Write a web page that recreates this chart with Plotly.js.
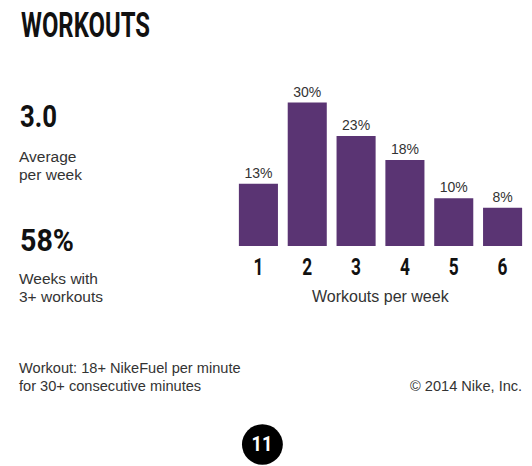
<!DOCTYPE html>
<html>
<head>
<meta charset="utf-8">
<script src="https://cdn.plot.ly/plotly-3.0.1.min.js"></script>
<style>
  html, body { margin: 0; padding: 0; background: #fff; }
  #chart { width: 532px; height: 466px; }
</style>
</head>
<body>
<div id="chart"></div>
<script>
// ---- data ----
const categories = ["1", "2", "3", "4", "5", "6"];
const shares = [13, 30, 23, 18, 10, 8];
const barLabels = ["13%", "30%", "23%", "18%", "10%", "8%"];
const titleText = "WORKOUTS";
const statValues = ["3.0", "58%"];
const statCaptions = [["Average", "per week"], ["Weeks with", "3+ workouts"]];
const xAxisLabel = "Workouts per week";
const footnoteLines = ["Workout: 18+ NikeFuel per minute", "for 30+ consecutive minutes"];
const copyrightText = "© 2014 Nike, Inc.";
const pageNumber = "11";

// ---- layout geometry (pixels) ----
const WIDTH = 532, HEIGHT = 466;
const L = 233.5, R = 527.5, T = 92.7, B = 245.7;
const PW = R - L, PH = B - T;
const px = x => (x - L) / PW;
const py = y => (B - y) / PH;

const COND = "Roboto, Liberation Sans, Arial, sans-serif";
const BODY = "Liberation Sans, Arial, Helvetica, sans-serif";
const TEXT = "#333333";

function ann(text, x, y, size, opts) {
  return Object.assign({
    text: text, xref: "paper", yref: "paper", x: px(x), y: py(y),
    xanchor: "left", yanchor: "middle", showarrow: false,
    font: {family: BODY, size: size, color: TEXT}
  }, opts || {});
}
const condFont = (size, color) => ({family: COND, size: size, color: color, weight: 700});

const annotations = [
  ann(titleText, 18, 25.5, 35, {font: condFont(35, "#111")}),                 // 0
  ann(statValues[0], 17, 116, 31, {font: condFont(31, "#111")}),              // 1
  ann(statCaptions[0][0], 16, 156, 15.5),
  ann(statCaptions[0][1], 16, 174, 15.5),
  ann(statValues[1], 17, 240, 32, {font: condFont(32, "#111")}),              // 4
  ann(statCaptions[1][0], 16, 278.5, 15.5),
  ann(statCaptions[1][1], 16, 296, 15.5),
  ann(xAxisLabel, 381, 296, 16, {xanchor: "center"}),
  ann(footnoteLines[0], 16, 367.5, 14.6),
  ann(footnoteLines[1], 16, 385.5, 14.6),
  ann(copyrightText, 524, 385.5, 14.6, {xanchor: "right"}),
  ann(pageNumber, 262, 443.5, 21, {xanchor: "center", font: condFont(21, "#fff")}) // 11
];
// horizontal condensing (target widths in px) for the bold condensed face
const condense = {0: {w: 129, anchor: "left"}, 1: {w: 37, anchor: "left"},
                  4: {w: 54, anchor: "left"}, 11: {w: 21, anchor: "center"}};

const shapes = [{
  type: "circle", xref: "paper", yref: "paper",
  x0: px(241.5), x1: px(282.5), y0: py(464.5), y1: py(424),
  fillcolor: "#000", line: {width: 0}, layer: "above"
}];

const trace = {
  type: "bar",
  x: categories,
  y: shares,
  text: barLabels,
  textposition: "outside",
  textfont: {family: BODY, size: 14, color: TEXT},
  cliponaxis: false,
  marker: {color: "#5a3473", line: {width: 0}},
  hoverinfo: "skip"
};

const layout = {
  width: WIDTH, height: HEIGHT,
  margin: {l: L, r: WIDTH - R, t: T, b: HEIGHT - B, pad: 0},
  paper_bgcolor: "#fff", plot_bgcolor: "#fff",
  showlegend: false,
  bargap: 0.2,
  xaxis: {
    type: "category", range: [-0.5, 5.5],
    showgrid: false, zeroline: false, showline: false, ticks: "",
    tickfont: condFont(24, "#111"),
    ticklabelstandoff: 4
  },
  yaxis: {
    range: [0, 32], visible: false, showgrid: false, zeroline: false
  },
  annotations: annotations,
  shapes: shapes
};

function squeeze(el, s, anchor) {
  const bb = el.getBBox();
  const ax = anchor === "left" ? bb.x : anchor === "right" ? bb.x + bb.width : bb.x + bb.width / 2;
  const prev = el.getAttribute("transform") || "";
  el.setAttribute("transform", prev + " translate(" + ax + ",0) scale(" + s + ",1) translate(" + (-ax) + ",0)");
}

Plotly.newPlot("chart", [trace], layout, {displayModeBar: false, staticPlot: true}).then(gd => {
  Object.keys(condense).forEach(i => {
    const el = gd.querySelector('.annotation[data-index="' + i + '"] text.annotation-text');
    if (!el) return;
    const bb = el.getBBox();
    if (bb.width > 0) squeeze(el, condense[i].w / bb.width, condense[i].anchor);
  });
  gd.querySelectorAll(".xtick text").forEach(el => squeeze(el, 0.72, "center"));
});
</script>
</body>
</html>
